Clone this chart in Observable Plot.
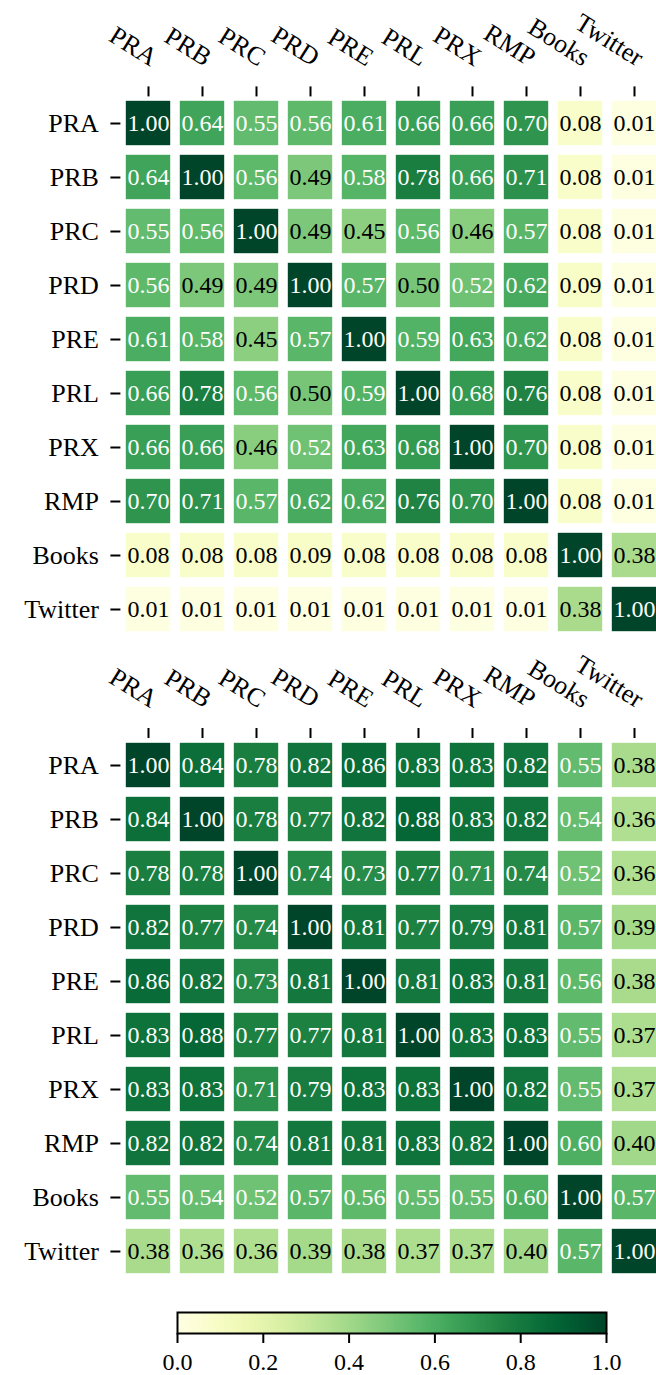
<!DOCTYPE html>
<html><head><meta charset="utf-8">
<script src="https://cdn.jsdelivr.net/npm/d3@7"></script>
<script src="https://cdn.jsdelivr.net/npm/@observablehq/plot@0.6"></script>
<style>
html,body{margin:0;padding:0;background:#fff;}
#root{width:656px;height:1375px;overflow:hidden;}
#root svg{display:block;}
#root svg, #root svg text{font-family:"Liberation Serif", serif !important;}
</style></head><body><div id="root"></div>
<script>
const labels = ["PRA","PRB","PRC","PRD","PRE","PRL","PRX","RMP","Books","Twitter"];
const matrixTop = [
  [1.00,0.64,0.55,0.56,0.61,0.66,0.66,0.70,0.08,0.01],
  [0.64,1.00,0.56,0.49,0.58,0.78,0.66,0.71,0.08,0.01],
  [0.55,0.56,1.00,0.49,0.45,0.56,0.46,0.57,0.08,0.01],
  [0.56,0.49,0.49,1.00,0.57,0.50,0.52,0.62,0.09,0.01],
  [0.61,0.58,0.45,0.57,1.00,0.59,0.63,0.62,0.08,0.01],
  [0.66,0.78,0.56,0.50,0.59,1.00,0.68,0.76,0.08,0.01],
  [0.66,0.66,0.46,0.52,0.63,0.68,1.00,0.70,0.08,0.01],
  [0.70,0.71,0.57,0.62,0.62,0.76,0.70,1.00,0.08,0.01],
  [0.08,0.08,0.08,0.09,0.08,0.08,0.08,0.08,1.00,0.38],
  [0.01,0.01,0.01,0.01,0.01,0.01,0.01,0.01,0.38,1.00]
];
const matrixBottom = [
  [1.00,0.84,0.78,0.82,0.86,0.83,0.83,0.82,0.55,0.38],
  [0.84,1.00,0.78,0.77,0.82,0.88,0.83,0.82,0.54,0.36],
  [0.78,0.78,1.00,0.74,0.73,0.77,0.71,0.74,0.52,0.36],
  [0.82,0.77,0.74,1.00,0.81,0.77,0.79,0.81,0.57,0.39],
  [0.86,0.82,0.73,0.81,1.00,0.81,0.83,0.81,0.56,0.38],
  [0.83,0.88,0.77,0.77,0.81,1.00,0.83,0.83,0.55,0.37],
  [0.83,0.83,0.71,0.79,0.83,0.83,1.00,0.82,0.55,0.37],
  [0.82,0.82,0.74,0.81,0.81,0.83,0.82,1.00,0.60,0.40],
  [0.55,0.54,0.52,0.57,0.56,0.55,0.55,0.60,1.00,0.57],
  [0.38,0.36,0.36,0.39,0.38,0.37,0.37,0.40,0.57,1.00]
];
const colorbarTicks = [0.0,0.2,0.4,0.6,0.8,1.0];

function table(m){
  const out=[];
  m.forEach((row,i)=>row.forEach((v,j)=>out.push({row:labels[i], col:labels[j], v})));
  return out;
}
const font = "'Liberation Serif', serif";
const colorOpt = {type:"linear", scheme:"YlGn", domain:[0,1]};
const fmt2 = d3.format(".2f");

function heatmap(m, h, top){
  const data = table(m);
  return Plot.plot({
    width:656, height:h,
    marginTop:top, marginBottom:h-top-542, marginLeft:120.4, marginRight:0,
    x:{domain:labels, range:[120.4,662.4], padding:0, label:null},
    y:{domain:labels, range:[top,top+542], padding:0, label:null},
    color: colorOpt,
    style:{fontFamily:font, fontSize:"24px", background:"white", color:"black"},
    marks:[
      Plot.cell(data,{x:"col",y:"row",fill:"v",inset:4.8}),
      Plot.text(data.filter(d=>d.v>0.51),{x:"col",y:"row",text:d=>fmt2(d.v),fill:"white"}),
      Plot.text(data.filter(d=>d.v<=0.51),{x:"col",y:"row",text:d=>fmt2(d.v),fill:"black"}),
      Plot.axisY({anchor:"left", label:null, tickSize:10, tickPadding:12, strokeWidth:2, fontSize:26}),
      Plot.axisX({anchor:"top", label:null, tickSize:10, tickFormat:()=>"", strokeWidth:2}),
      Plot.text(labels,{x:d=>d, frameAnchor:"top", dy:-29, dx:2, rotate:32, textAnchor:"end", lineAnchor:"bottom", fill:"black", fontSize:26})
    ]
  });
}

function colorbar(){
  const n = 256;
  const stops = d3.range(n).map(i=>i/n);
  return Plot.plot({
    width:656, height:93,
    marginTop:30, marginBottom:42, marginLeft:177, marginRight:50,
    x:{domain:[0,1], label:null},
    color: colorOpt,
    style:{fontFamily:font, fontSize:"24px", background:"white", color:"black"},
    marks:[
      Plot.rect(stops,{x1:d=>d, x2:d=>Math.min(1,d+2/n), fill:d=>d+0.5/n}),
      Plot.frame({stroke:"black", strokeWidth:2}),
      Plot.axisX(colorbarTicks,{anchor:"bottom", label:null, tickSize:10, tickPadding:9, tickFormat:d3.format(".1f"), strokeWidth:2})
    ]
  });
}

const root = document.getElementById("root");
root.appendChild(heatmap(matrixTop, 641, 95.4));
root.appendChild(heatmap(matrixBottom, 641, 96));
root.appendChild(colorbar());
</script>
</body></html>
